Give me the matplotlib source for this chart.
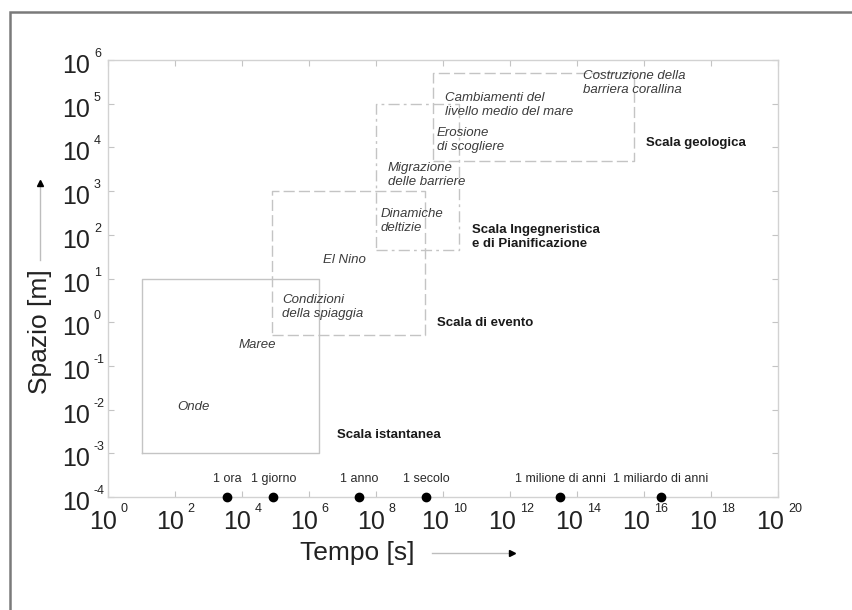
import matplotlib
matplotlib.use('Agg')
import matplotlib.pyplot as plt
from matplotlib.lines import Line2D
from matplotlib.patches import Rectangle

plt.rcParams['font.family'] = ['Liberation Sans', 'DejaVu Sans']

# Scale boxes: time range [s] and space range [m]
scale_names = ['Scala istantanea', 'Scala di evento',
               'Scala Ingegneristica\ne di Pianificazione', 'Scala geologica']
t_min = [1e1, 8e4, 1e8, 5e9]
t_max = [2e6, 3e9, 3e10, 5e15]
s_min = [1e-3, 0.5, 45, 5e3]
s_max = [1e1, 1e3, 1e5, 5e5]
box_styles = ['-', (0, (8, 3)), (0, (8, 3, 2, 3)), (0, (8, 3))]

# where the scale names are written (left edge, middle)
scale_t = [10**6.84, 10**9.82, 10**10.87, 10**16.06]
scale_s = [10**-2.58, 10**-0.02, 10**1.95, 10**4.10]

# Phenomena
phen_names = ['Onde', 'Maree', 'Condizioni\ndella spiaggia', 'El Nino',
              'Dinamiche\ndeltizie', 'Migrazione\ndelle barriere',
              'Erosione\ndi scogliere', 'Cambiamenti del\nlivello medio del mare',
              'Costruzione della\nbarriera corallina']
phen_t = [10**2.54, 10**4.45, 10**5.19, 10**6.42, 10**8.15, 10**8.36,
          10**9.82, 10**10.06, 10**14.18]
phen_s = [10**-1.94, 10**-0.52, 10**0.35, 10**1.42, 10**2.32, 10**3.37,
          10**4.17, 10**4.97, 10**5.47]
phen_ha = ['center', 'center', 'left', 'left', 'left', 'left',
           'left', 'left', 'left']

# Reference time markers along the axis
time_names = ['1 ora', '1 giorno', '1 anno', '1 secolo',
              '1 milione di anni', '1 miliardo di anni']
time_sec = [3600, 86400, 3.15e7, 3.15e9, 3.15e13, 3.15e16]

x_exp = list(range(0, 21, 2))
y_exp = list(range(-4, 7))

box_grey = '#c4c4c4'
text_grey = '#3c3c3c'
label_col = '#222222'
px = 0.72  # points per pixel at 100 dpi

fig = plt.figure(figsize=(8.52, 6.10), dpi=100)
ax = fig.add_axes([108 / 852, 1 - 497 / 610, 670 / 852, 437 / 610])

ax.set_xscale('log')
ax.set_yscale('log')
ax.set_xlim(1e0, 1e20)
ax.set_ylim(1e-4, 1e6)

ax.set_xticks([10.0**k for k in x_exp])
ax.set_yticks([10.0**k for k in y_exp])
ax.set_xticklabels([])
ax.set_yticklabels([])
ax.minorticks_off()
ax.tick_params(axis='both', which='major', direction='in', length=4,
               color=box_grey, top=True, right=True)
for sp in ax.spines.values():
    sp.set_color('#d2d2d2')
    sp.set_linewidth(1.0)

# tick labels written as "10" plus a small exponent
for k in x_exp:
    sup = str(k)
    total = 31 + 5.5 * len(sup)
    left = -total / 2
    ax.annotate('10', (10.0**k, 0), xycoords=('data', 'axes fraction'),
                xytext=((left + 27) * px, -25 * px), textcoords='offset points',
                ha='right', va='center', fontsize=18, color=label_col)
    ax.annotate(sup, (10.0**k, 0), xycoords=('data', 'axes fraction'),
                xytext=((left + 31) * px, -12 * px), textcoords='offset points',
                ha='left', va='center', fontsize=9, color=label_col)
for k in y_exp:
    ax.annotate('10', (0, 10.0**k), xycoords=('axes fraction', 'data'),
                xytext=(-18 * px, -6 * px), textcoords='offset points',
                ha='right', va='center', fontsize=18, color=label_col)
    ax.annotate(str(k), (0, 10.0**k), xycoords=('axes fraction', 'data'),
                xytext=(-14 * px, 6 * px), textcoords='offset points',
                ha='left', va='center', fontsize=9, color=label_col)

# the scale boxes
for i in range(len(scale_names)):
    xs = [t_min[i], t_max[i], t_max[i], t_min[i], t_min[i]]
    ys = [s_min[i], s_min[i], s_max[i], s_max[i], s_min[i]]
    ax.plot(xs, ys, color=box_grey, lw=1.0, linestyle=box_styles[i])
    ax.text(scale_t[i], scale_s[i], scale_names[i], fontsize=9.5,
            fontweight='bold', color='#1a1a1a', ha='left', va='center',
            linespacing=1.25)

for name, t, s, ha in zip(phen_names, phen_t, phen_s, phen_ha):
    ax.text(t, s, name, fontsize=9.5, style='italic', color=text_grey,
            ha=ha, va='center', linespacing=1.25)

# time markers on the bottom axis
ax.plot(time_sec, [1e-4] * len(time_sec), 'o', color='black', ms=6,
        clip_on=False, zorder=5)
for name, t in zip(time_names, time_sec):
    ax.annotate(name, (t, 1e-4), xytext=(0, 13), textcoords='offset points',
                ha='center', va='center', fontsize=9, color='#2a2a2a')

# axis titles with arrows
fig.text(357 / 852, 1 - 553 / 610, 'Tempo [s]', fontsize=19,
         ha='center', va='center', color=label_col)
fig.text(40 / 852, 1 - 332 / 610, 'Spazio [m]', fontsize=19, rotation=90,
         ha='center', va='center', color=label_col)

fig.add_artist(Line2D([432 / 852, 508 / 852], [1 - 553 / 610] * 2,
                      color='#bdbdbd', lw=1.0))
fig.add_artist(Line2D([512 / 852], [1 - 553 / 610], marker='>', ms=5,
                      color='black', lw=0))
fig.add_artist(Line2D([40 / 852] * 2, [1 - 260 / 610, 1 - 186 / 610],
                      color='#bdbdbd', lw=1.0))
fig.add_artist(Line2D([40 / 852], [1 - 183 / 610], marker='^', ms=5,
                      color='black', lw=0))

# outer frame
fig.add_artist(Rectangle((10 / 852, -0.2), 1.2, 1.2 - 12 / 610, fill=False,
                         edgecolor='#7a7a7a', lw=1.8,
                         transform=fig.transFigure))

fig.savefig('out.png', dpi=100)
